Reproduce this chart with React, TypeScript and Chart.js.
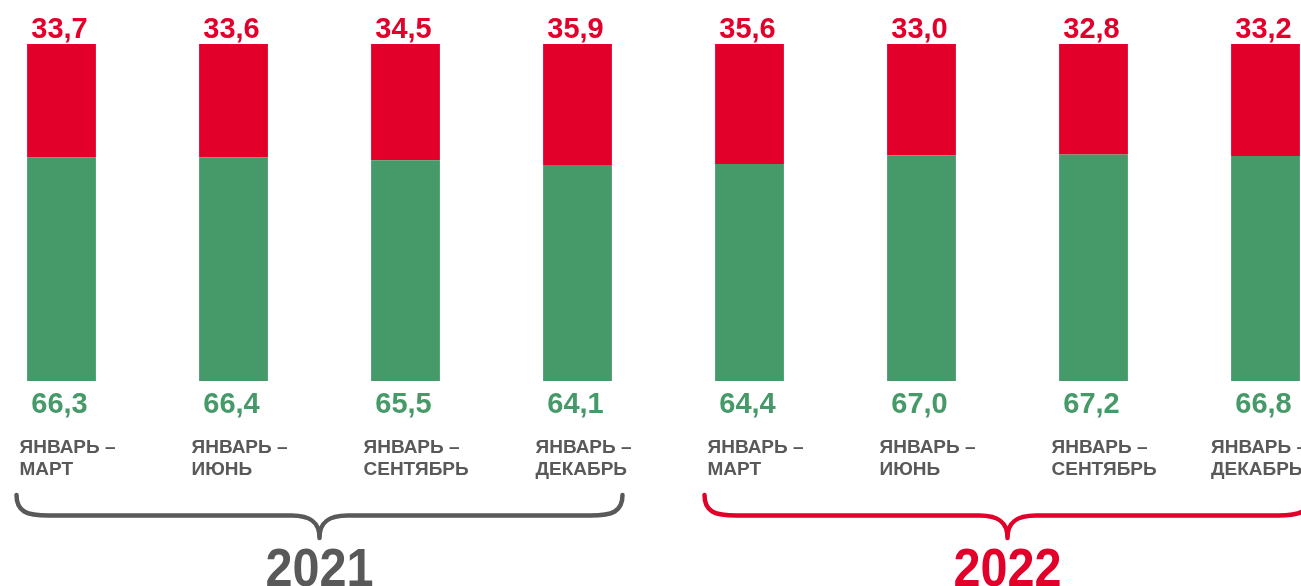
import React, { useEffect, useRef } from "react";
import { Chart, registerables } from "chart.js";

Chart.register(...registerables);

const periodStart: string[] = [
  "ЯНВАРЬ –", "ЯНВАРЬ –", "ЯНВАРЬ –", "ЯНВАРЬ –",
  "ЯНВАРЬ –", "ЯНВАРЬ –", "ЯНВАРЬ –", "ЯНВАРЬ –",
];
const periodEnd: string[] = [
  "МАРТ", "ИЮНЬ", "СЕНТЯБРЬ", "ДЕКАБРЬ",
  "МАРТ", "ИЮНЬ", "СЕНТЯБРЬ", "ДЕКАБРЬ",
];
const greenValues: number[] = [66.3, 66.4, 65.5, 64.1, 64.4, 67.0, 67.2, 66.8];
const redValues: number[] = [33.7, 33.6, 34.5, 35.9, 35.6, 33.0, 32.8, 33.2];
const years: string[] = ["2021", "2022"];
const yearFirstIndex: number[] = [0, 4];
const yearLastIndex: number[] = [3, 7];

const RED = "#E2002B";
const GREEN = "#469A69";
const GRAY = "#595959";
const YEAR_COLORS = [GRAY, RED];
const FONT = '"Liberation Sans", Arial, sans-serif';

const fmt = (v: number) => v.toFixed(1).replace(".", ",");

const overlayPlugin = {
  id: "overlay",
  afterDatasetsDraw(chart: any) {
    const ctx = chart.ctx as CanvasRenderingContext2D;
    const xs = chart.scales.x;
    const ys = chart.scales.y;
    const top = ys.getPixelForValue(100);
    const bottom = ys.getPixelForValue(0);
    ctx.save();
    for (let i = 0; i < greenValues.length; i++) {
      const cx = xs.getPixelForValue(i);
      ctx.textBaseline = "alphabetic";
      ctx.textAlign = "center";
      ctx.font = `bold 29px ${FONT}`;
      ctx.fillStyle = RED;
      ctx.fillText(fmt(redValues[i]), cx - 2, top - 6);
      ctx.fillStyle = GREEN;
      ctx.fillText(fmt(greenValues[i]), cx - 2, bottom + 32);

      ctx.textAlign = "left";
      ctx.font = `bold 19px ${FONT}`;
      ctx.fillStyle = GRAY;
      const left = Math.min(cx - 42, chart.width - 90);
      ctx.fillText(periodStart[i], left, bottom + 72);
      ctx.fillText(periodEnd[i], left, bottom + 94);
    }

    for (let g = 0; g < years.length; g++) {
      const L = xs.getPixelForValue(yearFirstIndex[g]) - 45;
      const R = xs.getPixelForValue(yearLastIndex[g]) + 45;
      const M = (L + R) / 2;
      const yTop = bottom + 114;
      const yMid = bottom + 134.5;
      const yTip = bottom + 157;
      ctx.strokeStyle = YEAR_COLORS[g];
      ctx.lineWidth = 4.5;
      ctx.lineCap = "round";
      ctx.lineJoin = "round";
      ctx.beginPath();
      ctx.moveTo(L, yTop);
      ctx.bezierCurveTo(L, yMid - 4, L + 10, yMid, L + 32, yMid);
      ctx.lineTo(M - 28, yMid);
      ctx.bezierCurveTo(M - 10, yMid, M, yMid + 6, M, yTip);
      ctx.bezierCurveTo(M, yMid + 6, M + 10, yMid, M + 28, yMid);
      ctx.lineTo(R - 32, yMid);
      ctx.bezierCurveTo(R - 10, yMid, R, yMid - 4, R, yTop);
      ctx.stroke();

      ctx.save();
      ctx.translate(M, bottom + 205);
      ctx.scale(0.9, 1);
      ctx.font = `bold 54px ${FONT}`;
      ctx.textAlign = "center";
      ctx.textBaseline = "alphabetic";
      ctx.fillStyle = YEAR_COLORS[g];
      ctx.fillText(years[g], 0, 0);
      ctx.restore();
    }
    ctx.restore();
  },
};

export default function App() {
  const canvasRef = useRef<HTMLCanvasElement | null>(null);

  useEffect(() => {
    const canvas = canvasRef.current;
    if (!canvas) return;
    const chart = new Chart(canvas, {
      type: "bar",
      data: {
        labels: periodEnd.map((e, i) => `${periodStart[i]} ${e}`),
        datasets: [
          {
            label: "green",
            data: greenValues,
            backgroundColor: GREEN,
            borderWidth: 0,
            barPercentage: 0.5,
            categoryPercentage: 0.8,
            clip: false,
          } as any,
          {
            label: "red",
            data: redValues,
            backgroundColor: RED,
            borderWidth: 0,
            barPercentage: 0.5,
            categoryPercentage: 0.8,
            clip: false,
          } as any,
        ],
      },
      options: {
        responsive: false,
        animation: false,
        layout: { padding: { top: 44, bottom: 205, left: 61.5, right: 35.5 } },
        plugins: { legend: { display: false }, tooltip: { enabled: false } },
        scales: {
          x: { display: false, stacked: true, offset: false, grid: { display: false } },
          y: { display: false, stacked: true, min: 0, max: 100 },
        },
      },
      plugins: [overlayPlugin],
    });
    return () => chart.destroy();
  }, []);

  return (
    <div style={{ position: "absolute", left: 0, top: 0, width: 1301, height: 586, background: "#fff" }}>
      <canvas ref={canvasRef} width={1301} height={586} style={{ display: "block" }} />
    </div>
  );
}
